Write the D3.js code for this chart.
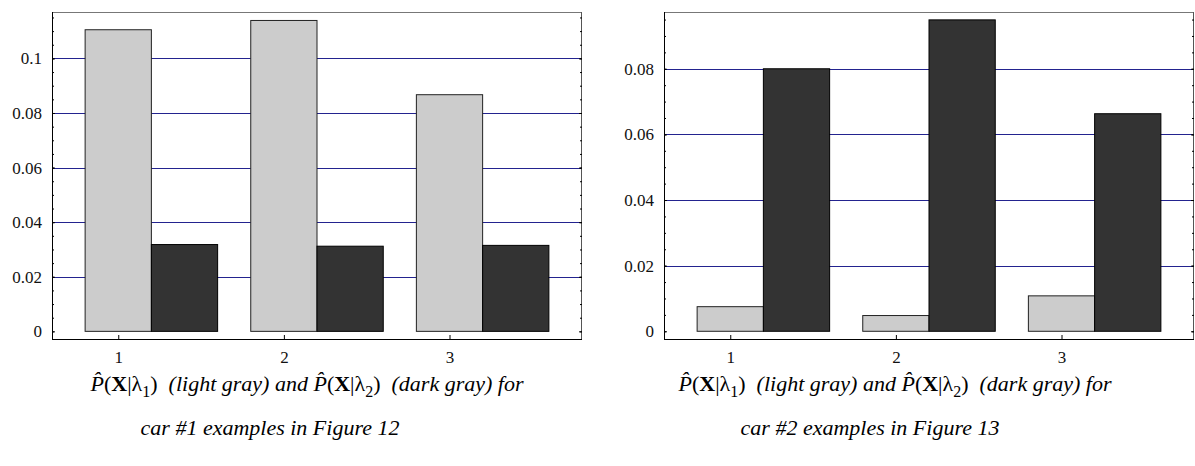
<!DOCTYPE html>
<html lang="en">
<head>
  <meta charset="UTF-8">
  <title>P(X|lambda) for car examples</title>
  <script src="https://d3js.org/d3.v7.min.js"></script>
  <style>
    body {
      margin: 0;
      background: #fff;
    }
    svg text {
      font-family: "Liberation Serif", "Times New Roman", Times, "DejaVu Serif", serif !important;
    }
  </style>
</head>
<body>
  <div id="chart"></div>

  <script>
    // data
    const categories = [1, 2, 3];
    const car1Light = [0.1105, 0.1139, 0.0867];
    const car1Dark = [0.0318, 0.0312, 0.0315];
    const car2Light = [0.0075, 0.0048, 0.0108];
    const car2Dark = [0.0800, 0.0949, 0.0663];
    const car1Ticks = [0, 0.02, 0.04, 0.06, 0.08, 0.1];
    const car2Ticks = [0, 0.02, 0.04, 0.06, 0.08];
    const car1TickLabels = ["0", "0.02", "0.04", "0.06", "0.08", "0.1"];
    const car2TickLabels = ["0", "0.02", "0.04", "0.06", "0.08"];

    const W = 1195, H = 466;
    const svg = d3.select("#chart")
                  .append("svg")
                  .attr("width", W)
                  .attr("height", H);

    function drawPanel(cfg) {
      const x = d3.scaleLinear().domain([0.6, 3.8]).range([cfg.left, cfg.right]);
      const y = d3.scaleLinear().domain(cfg.yDomain).range([339, 12]);
      const g = svg.append("g");

      // grid lines at major ticks
      g.selectAll(".grid")
       .data(cfg.ticks.filter(d => d > 0))
       .enter()
       .append("line")
       .attr("x1", cfg.left).attr("x2", cfg.right)
       .attr("y1", d => Math.round(y(d)) + 0.5)
       .attr("y2", d => Math.round(y(d)) + 0.5)
       .attr("stroke", "#23238f")
       .attr("stroke-width", 1);

      // bars
      const rows = categories.map((c, i) => ({c, light: cfg.light[i], dark: cfg.dark[i]}));
      g.selectAll(".light")
       .data(rows)
       .enter()
       .append("rect")
       .attr("x", d => x(d.c - 0.2))
       .attr("width", x(0.4) - x(0))
       .attr("y", d => y(d.light))
       .attr("height", d => y(0) - y(d.light))
       .attr("fill", "#cccccc")
       .attr("stroke", "#222")
       .attr("stroke-width", 1);

      g.selectAll(".dark")
       .data(rows)
       .enter()
       .append("rect")
       .attr("x", d => x(d.c + 0.2))
       .attr("width", x(0.4) - x(0))
       .attr("y", d => y(d.dark))
       .attr("height", d => y(0) - y(d.dark))
       .attr("fill", "#333333")
       .attr("stroke", "#000")
       .attr("stroke-width", 1);

      // frame: top and right in gray
      g.append("line")
       .attr("x1", cfg.left).attr("x2", cfg.right)
       .attr("y1", 12.5).attr("y2", 12.5)
       .attr("stroke", "#777");
      g.append("line")
       .attr("x1", cfg.right - 0.5).attr("x2", cfg.right - 0.5)
       .attr("y1", 12).attr("y2", 339)
       .attr("stroke", "#555");

      // minor ticks every 0.005
      const minor = d3.range(0, cfg.yDomain[1], 0.005);
      g.append("g")
       .attr("transform", `translate(${cfg.left},0)`)
       .call(d3.axisLeft(y).tickValues(minor).tickSize(-2).tickFormat(""))
       .call(a => a.select(".domain").remove());
      g.append("g")
       .attr("transform", `translate(${cfg.right},0)`)
       .call(d3.axisRight(y).tickValues(minor).tickSize(-2).tickFormat(""))
       .call(a => a.select(".domain").remove());

      // major ticks on the right side
      g.append("g")
       .attr("transform", `translate(${cfg.right},0)`)
       .call(d3.axisRight(y).tickValues(cfg.ticks).tickSize(-3).tickFormat(""))
       .call(a => a.select(".domain").remove());

      // left axis with labels
      const ya = g.append("g")
       .attr("transform", `translate(${cfg.left},0)`)
       .attr("font-family", null)
       .call(d3.axisLeft(y).tickValues(cfg.ticks).tickSize(-3).tickPadding(10)
              .tickFormat((d, i) => cfg.tickLabels[i]));
      ya.attr("font-family", null).attr("font-size", null);
      ya.select(".domain").attr("d", `M0.5,12V339`).attr("stroke", "#000");
      ya.selectAll("text")
        .style("font-size", "17px")
        .attr("fill", "#111");

      // bottom axis
      const xa = g.append("g")
       .attr("transform", `translate(0,339)`)
       .call(d3.axisBottom(x).tickValues(categories).tickSize(-4).tickPadding(12)
              .tickFormat(d3.format("d")));
      xa.attr("font-family", null).attr("font-size", null);
      xa.select(".domain").attr("d", `M${cfg.left},0.5H${cfg.right}`).attr("stroke", "#000");
      xa.selectAll("text")
        .style("font-size", "17px")
        .attr("fill", "#111");

      // caption
      const cap = svg.append("g").style("font-size", "22px").attr("fill", "#000");
      const l1 = cap.append("text")
        .attr("x", cfg.capX1).attr("y", 391)
        .attr("text-anchor", "middle");
      const part = (t, style) => {
        const s = l1.append("tspan").text(t);
        if (style === "i") s.style("font-style", "italic");
        if (style === "b") s.style("font-weight", "bold");
        return s;
      };
      const prob = (k) => {
        part("P\u0302", "i");
        part("(");
        part("X", "b");
        part("|\u03bb");
        part(k).attr("dy", 6).style("font-size", "16px");
        part(")").attr("dy", -6);
      };
      prob("1");
      part("\u2002(light gray) and ", "i");
      prob("2");
      part("\u2002(dark gray) for", "i");

      cap.append("text")
        .attr("x", cfg.capX2).attr("y", 435)
        .attr("text-anchor", "middle")
        .style("font-style", "italic")
        .text(cfg.caption2);
    }

    drawPanel({
      left: 52, right: 582,
      yDomain: [-0.0028, 0.117],
      ticks: car1Ticks, tickLabels: car1TickLabels,
      light: car1Light, dark: car1Dark,
      capX1: 307, capX2: 270,
      caption2: "car #1 examples in Figure 12"
    });

    drawPanel({
      left: 664, right: 1194,
      yDomain: [-0.00235, 0.0973],
      ticks: car2Ticks, tickLabels: car2TickLabels,
      light: car2Light, dark: car2Dark,
      capX1: 895, capX2: 870,
      caption2: "car #2 examples in Figure 13"
    });
  </script>
</body>
</html>
